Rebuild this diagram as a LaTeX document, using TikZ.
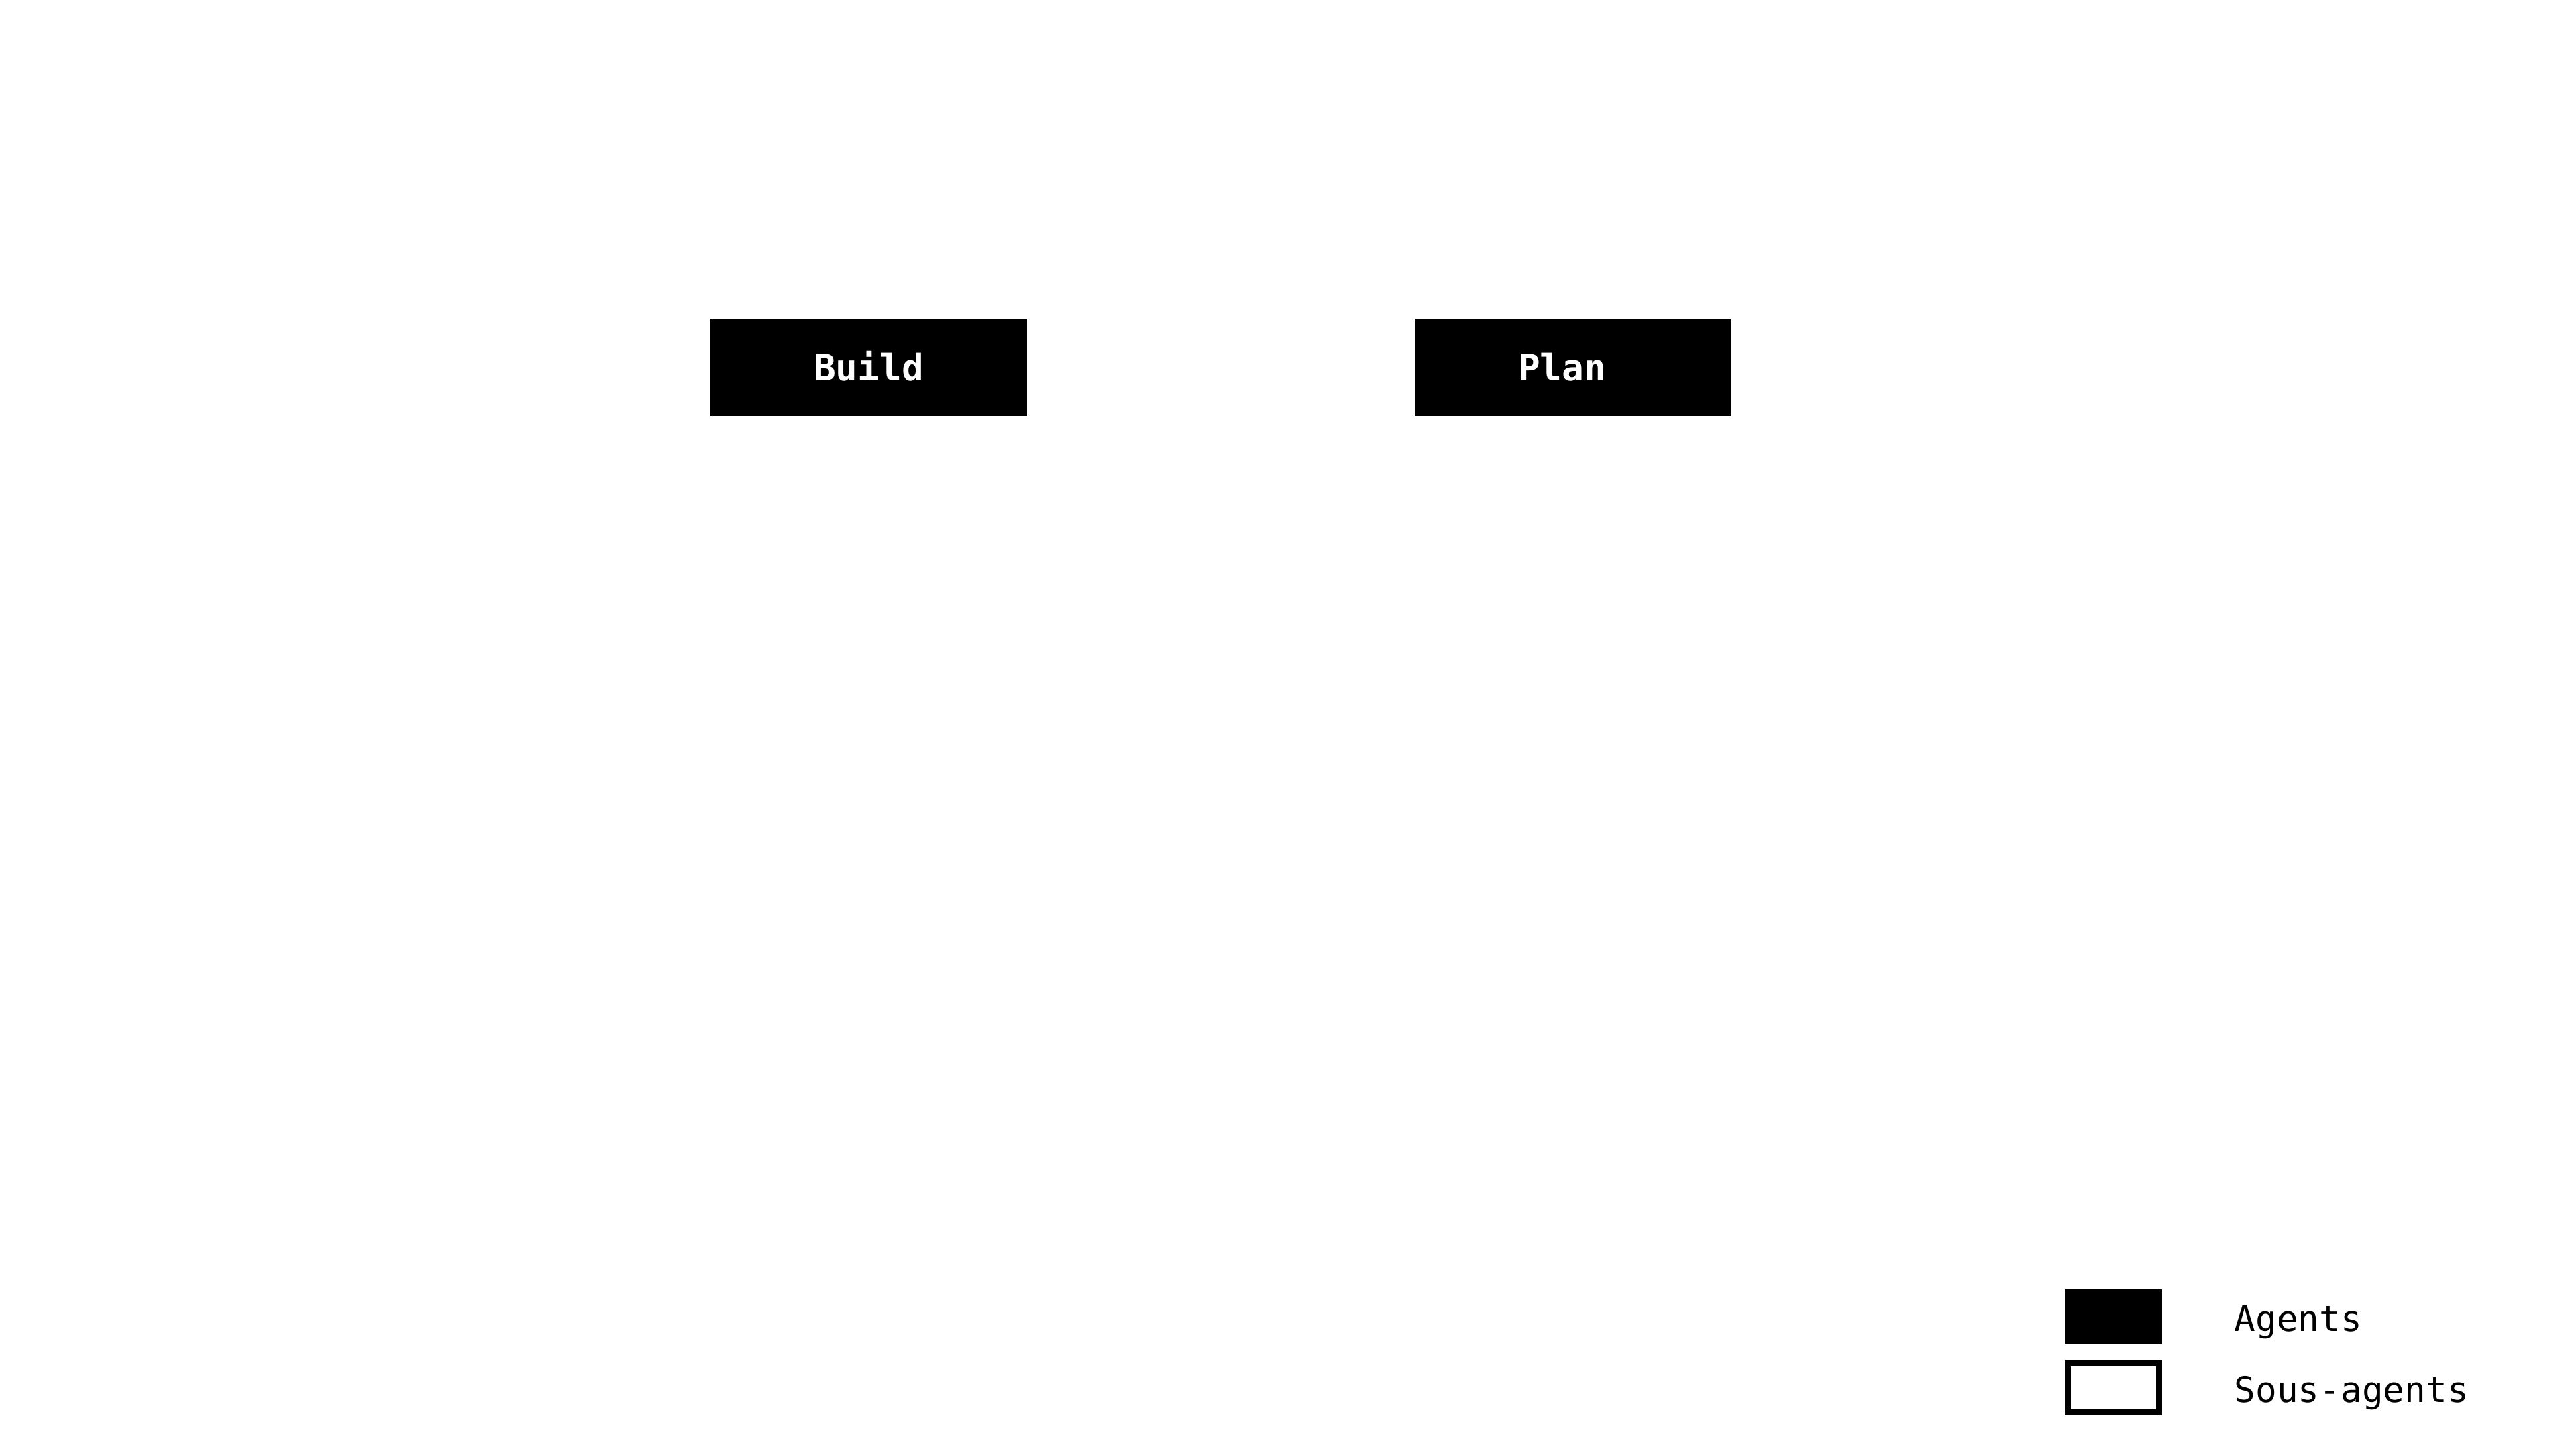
\documentclass[tikz,border=0pt]{standalone}
\usepackage{fontspec}
\setmonofont{DejaVu Sans Mono}
\begin{document}
\begin{tikzpicture}[x=1cm,y=1cm,
  agent/.style={fill=black, draw=none, minimum width=4.72cm, minimum height=1.44cm,
    inner sep=0pt, text=white, font=\ttfamily\bfseries\fontsize{15.5}{18}\selectfont,
    text height=11.2pt, text depth=0pt},
  legfill/.style={fill=black, draw=none, minimum width=1.45cm, minimum height=0.82cm, inner sep=0pt},
  legline/.style={fill=white, draw=black, line width=0.9mm, minimum width=1.36cm, minimum height=0.73cm, inner sep=0pt},
  legtext/.style={anchor=base west, inner sep=0pt, font=\ttfamily\fontsize{15}{18}\selectfont}]
\useasboundingbox (0,0) rectangle (38.4,21.6);
\fill[white] (0,0) rectangle (38.4,21.6);
\node[agent] (build) at (12.95,16.12) {Build};
\node[agent] (plan) at (23.45,16.12) {Plan\hphantom{x}};
\node[legfill] (lagent) at (31.505,1.97) {};
\node[legline] (lsub) at (31.505,0.91) {};
\node[legtext] (tagent) at (33.30,1.75) {Agents};
\node[legtext] (tsub) at (33.30,0.69) {Sous-agents};
\end{tikzpicture}
\end{document}
